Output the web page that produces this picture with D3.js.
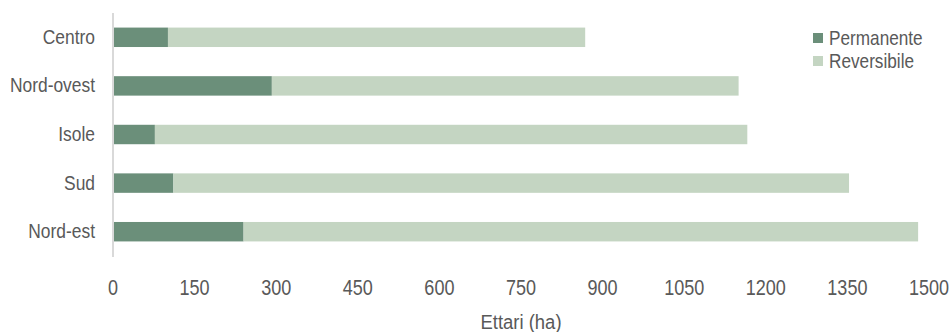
<!DOCTYPE html>
<html><head><meta charset="utf-8">
<script src="https://cdn.jsdelivr.net/npm/d3@7"></script>
<style>
html,body{margin:0;padding:0;background:#fff;}
svg text{font-family:"Liberation Sans",Arial,sans-serif;fill:#595959;}
</style></head>
<body><svg id="c" width="952" height="332"></svg>
<script>
const categories = ["Centro","Nord-ovest","Isole","Sud","Nord-est"];
const permanente = [101, 292, 77, 111, 240];
const reversibile = [767, 858, 1089, 1242, 1240];
const seriesNames = ["Permanente","Reversibile"];
const colors = ["#6b8f7a","#c4d5c2"];
const xTicks = [0,150,300,450,600,750,900,1050,1200,1350,1500];

const svg = d3.select("#c");
const m = {left:113, right:23, top:13, bottom:76};
const W = 952, H = 332;
const x = d3.scaleLinear().domain([0,1500]).range([m.left, W-m.right]);
const y = d3.scaleBand().domain(categories).range([m.top, H-m.bottom]).paddingInner(0.6).paddingOuter(0.3);

const rows = categories.map((c,i)=>({cat:c, Permanente:permanente[i], Reversibile:reversibile[i]}));
const stack = d3.stack().keys(seriesNames)(rows);

svg.append("g").selectAll("g").data(stack).join("g")
  .attr("fill",(d,i)=>colors[i])
  .selectAll("rect").data(d=>d).join("rect")
  .attr("x",d=>x(d[0])).attr("width",d=>x(d[1])-x(d[0]))
  .attr("y",d=>y(d.data.cat)).attr("height",y.bandwidth());

svg.append("line").attr("x1",m.left).attr("x2",m.left)
  .attr("y1",m.top).attr("y2",H-m.bottom+1).attr("stroke","#d9d9d9").attr("stroke-width",2);

function label(px, py, txt, anchor, fs, sx){
  svg.append("text")
    .attr("transform",`translate(${px},${py}) scale(${sx},1)`)
    .attr("text-anchor",anchor).attr("font-size",fs).text(txt);
}

categories.forEach(c=>label(95, y(c)+y.bandwidth()/2+6.5, c, "end", 20, 0.87));

xTicks.forEach(t=>label(x(t), 294.5, d3.format("d")(t), "middle", 22, 0.82));

label((x(0)+x(1500))/2, 329, "Ettari (ha)", "middle", 21, 0.88);

seriesNames.forEach((n,i)=>{
  svg.append("rect").attr("x",813).attr("y",33+i*23).attr("width",10).attr("height",10).attr("fill",colors[i]);
  label(829, 33+i*23+12, n, "start", 20, 0.86);
});
</script></body></html>
